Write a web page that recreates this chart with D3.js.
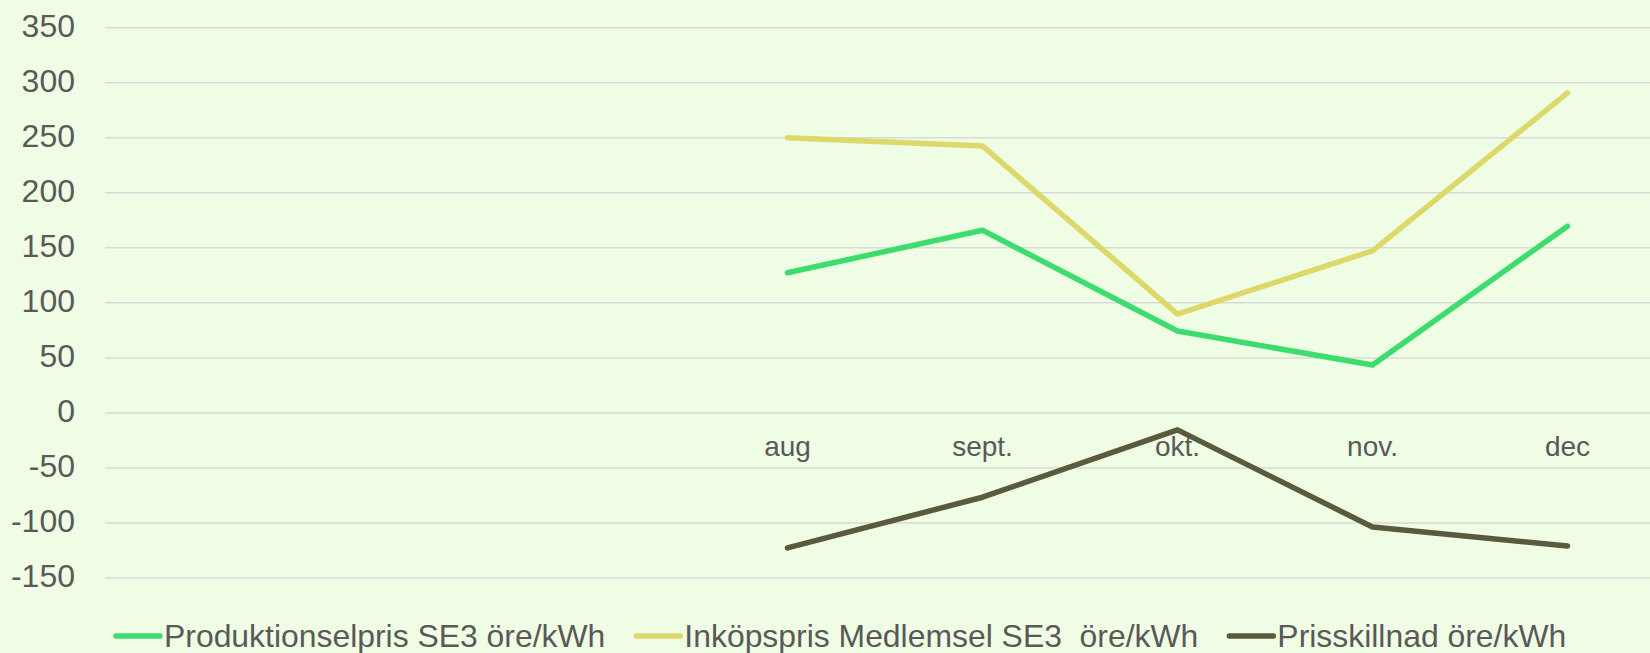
<!DOCTYPE html>
<html>
<head>
<meta charset="utf-8">
<script src="https://cdn.jsdelivr.net/npm/d3@7"></script>
<style>
  html, body { margin: 0; padding: 0; background: #effde4; overflow: hidden; }
  text { font-family: "Liberation Sans", Arial, sans-serif; fill: #595959; }
</style>
</head>
<body>
<script>
// Kategorier (de tre första saknar värden och etikett)
var months = ["maj", "juni", "juli", "aug", "sept.", "okt.", "nov.", "dec"];
var produktion = [null, null, null, 127.3, 166, 74.4, 43.6, 169.7];
var inkop = [null, null, null, 250, 242.6, 89.8, 147.3, 290.7];
var skillnad = [null, null, null, -122.7, -76.6, -15.4, -103.7, -121];
var yTicks = [-150, -100, -50, 0, 50, 100, 150, 200, 250, 300, 350];

var seriesNames = ["Produktionselpris SE3 öre/kWh", "Inköpspris Medlemsel SE3  öre/kWh", "Prisskillnad öre/kWh"];
var seriesColors = ["#3ddc6e", "#dcd96a", "#5a5a3c"];

var W = 1650, H = 653;
var margin = {top: 27.7, left: 105, right: -15, bottom: 75};

var svg = d3.select("body").append("svg")
  .attr("width", W)
  .attr("height", H);

var x = d3.scaleBand()
  .domain(months)
  .range([margin.left, W - margin.right]);

var y = d3.scaleLinear()
  .domain([-150, 350])
  .range([H - margin.bottom, margin.top]);

// Stödlinjer
svg.append("g")
  .selectAll("line")
  .data(yTicks)
  .enter()
  .append("line")
  .attr("x1", margin.left)
  .attr("x2", W - margin.right)
  .attr("y1", function(d) { return y(d); })
  .attr("y2", function(d) { return y(d); })
  .attr("stroke", "#d9d9d9")
  .attr("stroke-width", 1.5);

// Y-axel
var yAxis = svg.append("g")
  .attr("transform", "translate(75,0)")
  .call(d3.axisLeft(y).tickValues(yTicks).tickSize(0).tickPadding(0)
    .tickFormat(function(d) { return String(d); }));
yAxis.select(".domain").remove();
yAxis.attr("font-family", null);
yAxis.selectAll("text")
  .attr("font-size", "32px")
  .attr("dy", "0.26em")
  .attr("fill", "#595959");

// X-axel (etiketter vid nollinjen)
var xAxis = svg.append("g")
  .attr("transform", "translate(0," + y(0) + ")")
  .call(d3.axisBottom(x).tickSize(0).tickPadding(0)
    .tickFormat(function(d, i) { return produktion[i] == null ? "" : d; }));
xAxis.select(".domain").remove();
xAxis.attr("font-family", null);
xAxis.selectAll("text")
  .attr("font-size", "28px")
  .attr("dy", null)
  .attr("y", 43)
  .attr("fill", "#595959");

// Linjer
var line = d3.line()
  .defined(function(d) { return d.v != null; })
  .x(function(d) { return x(d.m) + x.bandwidth() / 2; })
  .y(function(d) { return y(d.v); });

[produktion, inkop, skillnad].forEach(function(vals, k) {
  var pts = months.map(function(m, i) { return {m: m, v: vals[i]}; });
  svg.append("path")
    .datum(pts)
    .attr("d", line)
    .attr("fill", "none")
    .attr("stroke", seriesColors[k])
    .attr("stroke-width", 5.5)
    .attr("stroke-linecap", "round")
    .attr("stroke-linejoin", "round");
});

// Förklaring
var legend = svg.append("g").attr("transform", "translate(114,636)");
var lx = 0;
seriesNames.forEach(function(name, k) {
  var g = legend.append("g").attr("transform", "translate(" + lx + ",0)");
  g.append("line")
    .attr("x1", 2).attr("x2", 46)
    .attr("y1", 0).attr("y2", 0)
    .attr("stroke", seriesColors[k])
    .attr("stroke-width", 5.5)
    .attr("stroke-linecap", "round");
  var t = g.append("text")
    .attr("x", 50)
    .attr("y", 11)
    .attr("font-size", "31.9px")
    .style("white-space", "pre")
    .text(name);
  lx += 50 + t.node().getComputedTextLength() + 29;
});
</script>
</body>
</html>
